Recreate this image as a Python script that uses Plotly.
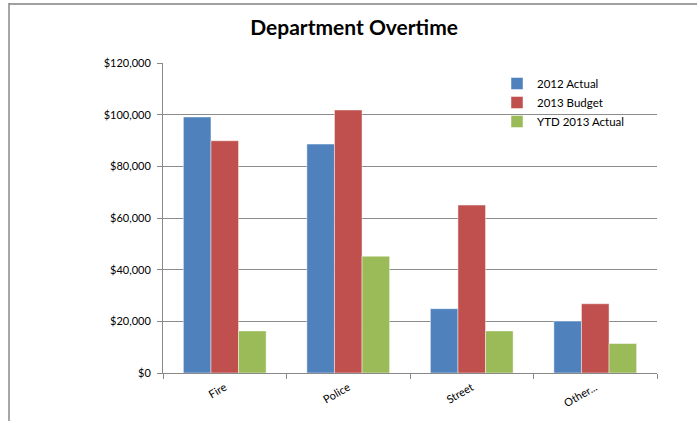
import plotly.graph_objects as go

categories = ["Fire", "Police", "Street", "Other..."]
actual_2012 = [99100, 88600, 24900, 20100]
budget_2013 = [89900, 101800, 65000, 26800]
ytd_2013 = [16300, 45200, 16300, 11400]
series_names = ["2012 Actual", "2013 Budget", "YTD 2013 Actual"]
series_colors = ["#4F81BD", "#C0504D", "#9BBB59"]
y_ticks = [0, 20000, 40000, 60000, 80000, 100000, 120000]
y_tick_labels = ["$0", "$20,000", "$40,000", "$60,000", "$80,000", "$100,000", "$120,000"]

FONT = "Lato, Carlito, 'Liberation Sans', sans-serif"

fig = go.Figure()
for name, vals, col in zip(series_names, [actual_2012, budget_2013, ytd_2013], series_colors):
    fig.add_trace(go.Bar(
        x=categories, y=vals, name=name,
        marker=dict(color=col, line=dict(color="rgba(255,255,255,0.45)", width=1)),
    ))

W, H = 697, 421
L, R, T, B = 163, 40, 63, 48
pw, ph = W - L - R, H - T - B

def px_x(x):
    return (x - L) / pw

def px_y(y):
    return (H - B - y) / ph

fig.update_layout(
    width=W, height=H,
    margin=dict(l=L, r=R, t=T, b=B),
    paper_bgcolor="white", plot_bgcolor="white",
    barmode="group", bargap=0.33, bargroupgap=0,
    font=dict(family=FONT, size=11, color="#000000"),
    title=dict(text="<b>Department Overtime</b>", x=0.508, xanchor="center",
               y=0.935, yanchor="middle", font=dict(family=FONT, size=21, color="#000")),
    showlegend=True,
    legend=dict(x=px_x(497), y=px_y(69), xanchor="left", yanchor="top",
                bgcolor="rgba(0,0,0,0)", font=dict(size=11.5, family=FONT),
                itemwidth=30, tracegroupgap=0),
    xaxis=dict(
        type="category", showline=True, linecolor="#888888", linewidth=1,
        ticks="outside", tickson="boundaries", ticklen=5, tickcolor="#888888",
        tickangle=-30, showgrid=False, tickfont=dict(size=11, family=FONT),
        ticklabelstandoff=3,
    ),
    yaxis=dict(
        range=[0, 120000], tickvals=y_ticks, ticktext=y_tick_labels,
        showline=True, linecolor="#888888", linewidth=1,
        ticks="outside", ticklen=5, tickcolor="#888888",
        showgrid=True, gridcolor="#8c8c8c", gridwidth=1, zeroline=False,
        tickfont=dict(size=11, family=FONT), ticklabelstandoff=4,
    ),
    shapes=[
        dict(type="line", xref="paper", yref="paper", x0=px_x(9), x1=px_x(697),
             y0=px_y(4), y1=px_y(4), line=dict(color="#a0a0a0", width=2)),
        dict(type="line", xref="paper", yref="paper", x0=px_x(9), x1=px_x(9),
             y0=px_y(3), y1=px_y(421), line=dict(color="#888888", width=1.5)),
    ],
)

fig.write_html("out.html", config={"displayModeBar": False},
               post_script="document.body.style.margin='0';document.body.style.overflow='hidden';")
